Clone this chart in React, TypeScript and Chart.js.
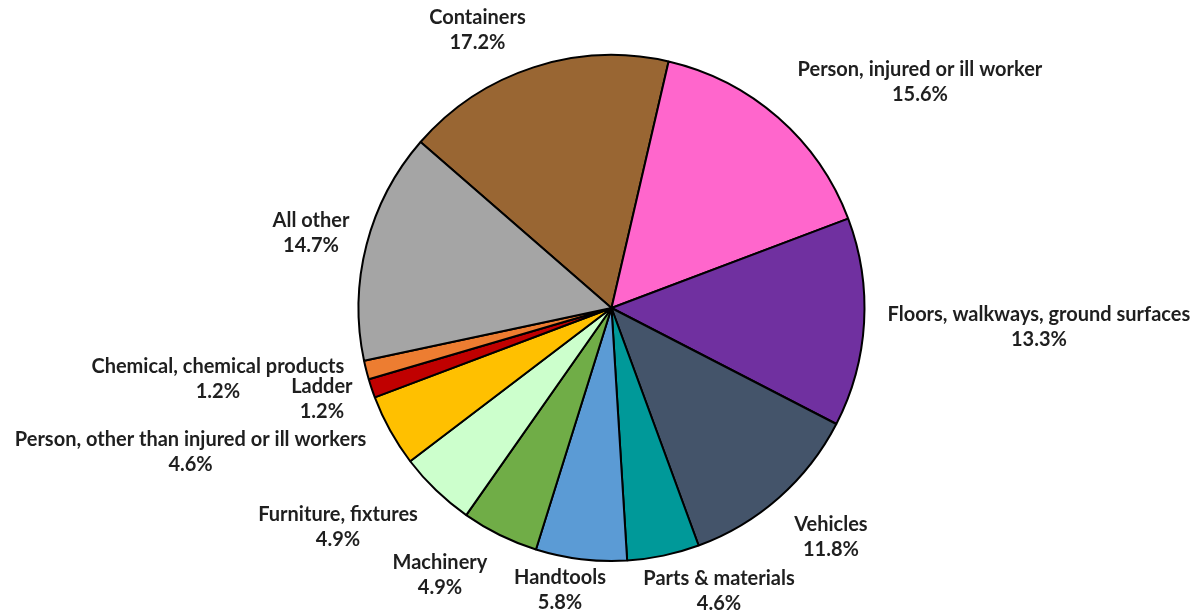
import React, { useEffect, useRef } from "react";
import { Chart, registerables } from "chart.js";

Chart.register(...registerables);

const categories = [
  "Containers",
  "Person, injured or ill worker",
  "Floors, walkways, ground surfaces",
  "Vehicles",
  "Parts & materials",
  "Handtools",
  "Machinery",
  "Furniture, fixtures",
  "Person, other than injured or ill workers",
  "Ladder",
  "Chemical, chemical products",
  "All other",
];

const shares = [17.2, 15.6, 13.3, 11.8, 4.6, 5.8, 4.9, 4.9, 4.6, 1.2, 1.2, 14.7];

const shareLabels = ["17.2%", "15.6%", "13.3%", "11.8%", "4.6%", "5.8%", "4.9%", "4.9%", "4.6%", "1.2%", "1.2%", "14.7%"];

const sliceColors = [
  "#996633",
  "#FF66CC",
  "#7030A0",
  "#44546A",
  "#009999",
  "#5B9BD5",
  "#70AD47",
  "#CCFFCC",
  "#FFC000",
  "#C00000",
  "#ED7D31",
  "#A5A5A5",
];

// label placement: distance (in pie radii) and angular shift (deg) from slice mid-angle
const labelDistance = [1.22, 1.51, 1.691, 1.255, 1.195, 1.135, 1.253, 1.386, 1.759, 1.2, 1.581, 1.224];
const labelShift = [-7.76, 12.65, -0.76, -2.29, -8.99, 3.42, 6.55, 7.36, 10.03, 1.06, 3.95, -0.49];

const labelPlugin = {
  id: "outsideLabels",
  afterDatasetsDraw(chart: any) {
    const meta = chart.getDatasetMeta(0);
    const ctx = chart.ctx;
    ctx.save();
    ctx.font = "bold 20px Lato, 'Open Sans', sans-serif";
    ctx.fillStyle = "#1f1f1f";
    ctx.textAlign = "center";
    ctx.textBaseline = "middle";
    meta.data.forEach((arc: any, i: number) => {
      const p = arc.getProps(["x", "y", "startAngle", "endAngle", "outerRadius"], true);
      const a = (p.startAngle + p.endAngle) / 2 + (labelShift[i] * Math.PI) / 180;
      const d = p.outerRadius * labelDistance[i];
      const x = p.x + Math.cos(a) * d;
      const y = p.y + Math.sin(a) * d;
      ctx.fillText(categories[i], x, y - 12.5);
      ctx.fillText(shareLabels[i], x, y + 12.5);
    });
    ctx.restore();
  },
};

export default function App() {
  const ref = useRef<HTMLCanvasElement | null>(null);
  useEffect(() => {
    document.body.style.margin = "0";
    const canvas = ref.current;
    if (!canvas) return;
    const chart = new Chart(canvas, {
      type: "pie",
      data: {
        labels: categories,
        datasets: [
          {
            data: shares,
            backgroundColor: sliceColors,
            borderColor: "#000000",
            borderWidth: 2,
          },
        ],
      },
      options: {
        responsive: false,
        animation: false,
        rotation: -49,
        radius: 253,
        layout: { padding: { left: 28, right: 0, top: 1, bottom: 0 } },
        plugins: {
          legend: { display: false },
          tooltip: { enabled: false },
        },
      },
      plugins: [labelPlugin],
    });
    return () => chart.destroy();
  }, []);
  return (
    <div style={{ width: 1195, height: 615, background: "#ffffff" }}>
      <canvas ref={ref} width={1195} height={615} />
    </div>
  );
}
